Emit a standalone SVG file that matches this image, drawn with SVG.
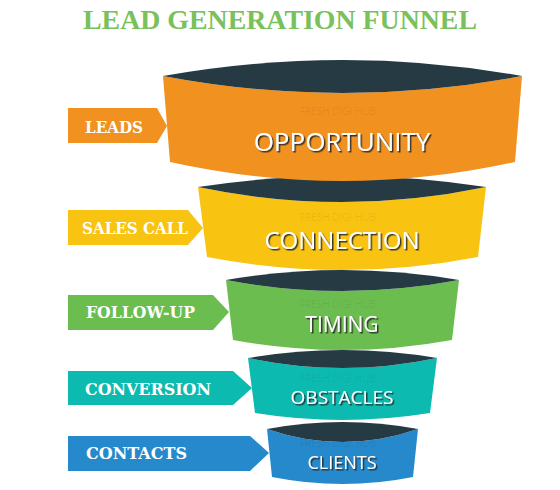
<svg xmlns="http://www.w3.org/2000/svg" width="560" height="490" viewBox="0 0 560 490">
<defs>
<style>
.lens{fill:#263a44}
.tag{fill:#fff;font-family:"DejaVu Serif",serif;font-weight:bold}
.main{fill:#fff;font-family:"Open Sans","Liberation Sans",sans-serif;text-anchor:middle;filter:url(#sh)}
.wm{fill:#000;fill-opacity:0.08;font-family:"Open Sans","Liberation Sans",sans-serif;font-size:10px;text-anchor:middle}
</style>
<filter id="sh" x="-10%" y="-20%" width="130%" height="150%">
<feDropShadow dx="1.5" dy="1.5" stdDeviation="0.3" flood-color="#222" flood-opacity="0.9"/>
</filter>
</defs>
<rect width="560" height="490" fill="#fff"/>
<text x="280" y="29" text-anchor="middle" font-family="Liberation Serif,serif" font-weight="bold" font-size="27" fill="#79c15a" textLength="394" lengthAdjust="spacingAndGlyphs">LEAD GENERATION FUNNEL</text>

<g id="clients">
<path d="M267,429 Q342.5,455 418,429 L413,477 Q342.5,491 272,477 Z" fill="#2589cb"/>
<path class="lens" d="M267,429 Q342.5,415 418,429 Q342.5,455 267,429 Z"/>
<text class="wm" x="338" y="447">FRESH DIGI HUB</text>
<text class="main" x="342" y="469" font-size="18">CLIENTS</text>
</g>
<g id="obstacles">
<path d="M248,358 Q342.5,378 437,358 L430,413 Q342.5,427 255,413 Z" fill="#0dbab0"/>
<path class="lens" d="M248,358 Q342.5,342 437,358 Q342.5,378 248,358 Z"/>
<text class="wm" x="338" y="382">FRESH DIGI HUB</text>
<text class="main" x="342" y="404" font-size="19">OBSTACLES</text>
</g>
<g id="timing">
<path d="M226,280 Q342.5,302 459,280 L452,340 Q342.5,360 233,340 Z" fill="#6bbd4f"/>
<path class="lens" d="M226,280 Q342.5,260 459,280 Q342.5,302 226,280 Z"/>
<text class="wm" x="338" y="308">FRESH DIGI HUB</text>
<text class="main" x="342" y="332" font-size="21">TIMING</text>
</g>
<g id="connection">
<path d="M198,187 Q342,217 486,187 L478,257 Q342.5,283 207,257 Z" fill="#f9c311"/>
<path class="lens" d="M198,187 Q342,165 486,187 Q342,217 198,187 Z"/>
<text class="wm" x="338" y="221">FRESH DIGI HUB</text>
<text class="main" x="342" y="249" font-size="24">CONNECTION</text>
</g>
<g id="opportunity">
<path d="M163,76 Q342.5,110 522,76 L515,162 Q342.5,200 170,162 Z" fill="#f09120"/>
<path class="lens" d="M163,76 Q342.5,44 522,76 Q342.5,110 163,76 Z"/>
<text class="wm" x="338" y="115">FRESH DIGI HUB</text>
<text class="main" x="342" y="151" font-size="26">OPPORTUNITY</text>
</g>

<g id="connectors">
<g id="leads">
<path d="M68,108 H157 L167,126 L157,143 H68 Z" fill="#f09120"/>
<text class="tag" x="85" y="133" font-size="16" textLength="58" lengthAdjust="spacingAndGlyphs">LEADS</text>
</g>
<g id="sales-call">
<path d="M68,210 H188 L203,228 L188,245 H68 Z" fill="#f9c311"/>
<text class="tag" x="82" y="234" font-size="16" textLength="106" lengthAdjust="spacingAndGlyphs">SALES CALL</text>
</g>
<g id="follow-up">
<path d="M68,295 H213 L229,312 L213,330 H68 Z" fill="#6bbd4f"/>
<text class="tag" x="86" y="318" font-size="16" textLength="109" lengthAdjust="spacingAndGlyphs">FOLLOW-UP</text>
</g>
<g id="conversion">
<path d="M68,371 H233 L252,388 L233,405 H68 Z" fill="#0dbab0"/>
<text class="tag" x="85" y="395" font-size="16" textLength="126" lengthAdjust="spacingAndGlyphs">CONVERSION</text>
</g>
<g id="contacts">
<path d="M68,436 H250 L269,453 L250,471 H68 Z" fill="#2589cb"/>
<text class="tag" x="86" y="459" font-size="16" textLength="101" lengthAdjust="spacingAndGlyphs">CONTACTS</text>
</g>
</g>
</svg>
